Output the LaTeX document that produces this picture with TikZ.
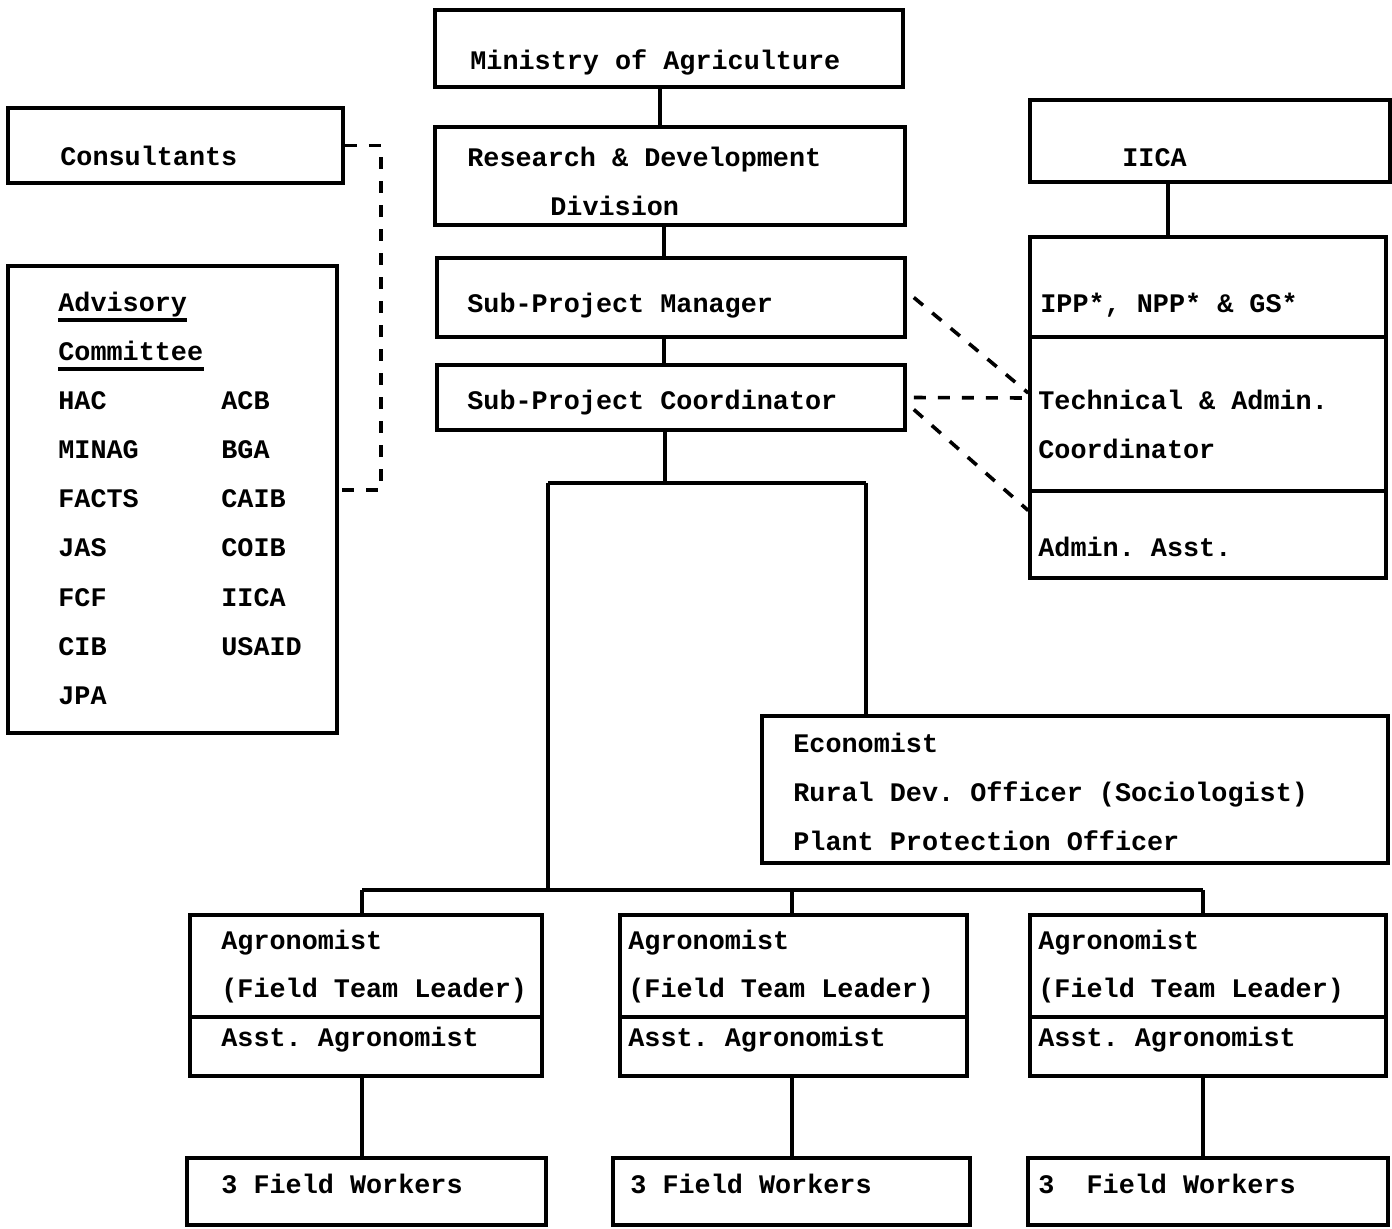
\documentclass[tikz,border=0pt]{standalone}
\usepackage{fontspec}
\setmonofont{Liberation Mono}
\usetikzlibrary{fit}

\tikzset{
  box/.style={draw, line width=1.8pt, inner sep=0pt},
  lbl/.style={anchor=base west, inner sep=0pt},
  link/.style={line width=1.6pt},
  dashlink/.style={line width=1.8pt, dash pattern=on 6pt off 6pt}
}

\begin{document}
\begin{tikzpicture}[x=0.5pt,y=-0.5pt,
    font=\fontsize{13.4pt}{16pt}\selectfont\ttfamily\bfseries]
    \useasboundingbox (0,0) rectangle (1392,1228);
    % boxes, middle column
    \node[box, fit={(435,10) (903,87)}] (min) {};
    \node[box, fit={(435,127) (905,225)}] (rdd) {};
    \node[box, fit={(437,258) (905,337)}] (spm) {};
    \node[box, fit={(437,365) (905,430)}] (spc) {};
    % boxes, left column
    \node[box, fit={(8,108) (343,183)}] (con) {};
    \node[box, fit={(8,266) (337,733)}] (adv) {};
    % boxes, right column
    \node[box, fit={(1030,100) (1390,182)}] (iica) {};
    \node[box, fit={(1030,237) (1386,337)}] (ipp) {};
    \node[box, fit={(1030,337) (1386,491)}] (tac) {};
    \node[box, fit={(1030,491) (1386,578)}] (aas) {};
    \node[box, fit={(762,716) (1388,863)}] (eco) {};
    % boxes, field teams
    \node[box, fit={(190,915) (542,1017)}] (ag1) {};
    \node[box, fit={(190,1017) (542,1076)}] (as1) {};
    \node[box, fit={(620,915) (967,1017)}] (ag2) {};
    \node[box, fit={(620,1017) (967,1076)}] (as2) {};
    \node[box, fit={(1030,915) (1386,1017)}] (ag3) {};
    \node[box, fit={(1030,1017) (1386,1076)}] (as3) {};
    \node[box, fit={(187,1158) (546,1225)}] (fw1) {};
    \node[box, fit={(613,1158) (970,1225)}] (fw2) {};
    \node[box, fit={(1028,1158) (1388,1225)}] (fw3) {};

    % texts
    \node[lbl] (t-min) at (470,69) {Ministry of Agriculture};
    \node[lbl] (t-rdd) at (467,166) {Research \& Development};
    \node[lbl] (t-div) at (550,215) {Division};
    \node[lbl] (t-spm) at (467,312) {Sub-Project Manager};
    \node[lbl] (t-spc) at (467,409) {Sub-Project Coordinator};
    \node[lbl] (t-con) at (60,165) {Consultants};
    \node[lbl] (t-adv) at (58,311) {Advisory};
    \node[lbl] (t-com) at (58,360) {Committee};
    \node[lbl] (t-hac) at (58,409) {HAC};
    \node[lbl] (t-min2) at (58,458) {MINAG};
    \node[lbl] (t-fac) at (58,507) {FACTS};
    \node[lbl] (t-jas) at (58,556) {JAS};
    \node[lbl] (t-fcf) at (58,606) {FCF};
    \node[lbl] (t-cib) at (58,655) {CIB};
    \node[lbl] (t-jpa) at (58,704) {JPA};
    \node[lbl] (t-acb) at (221,409) {ACB};
    \node[lbl] (t-bga) at (221,458) {BGA};
    \node[lbl] (t-cai) at (221,507) {CAIB};
    \node[lbl] (t-coi) at (221,556) {COIB};
    \node[lbl] (t-iic) at (221,606) {IICA};
    \node[lbl] (t-usa) at (221,655) {USAID};
    \node[lbl] (t-iica) at (1122,166) {IICA};
    \node[lbl] (t-ipp) at (1040,312) {IPP*, NPP* \& GS*};
    \node[lbl] (t-tac) at (1038,409) {Technical \& Admin.};
    \node[lbl] (t-tac2) at (1038,458) {Coordinator};
    \node[lbl] (t-aas) at (1038,556) {Admin. Asst.};
    \node[lbl] (t-eco) at (793,752) {Economist};
    \node[lbl] (t-rdo) at (793,801) {Rural Dev. Officer (Sociologist)};
    \node[lbl] (t-ppo) at (793,850) {Plant Protection Officer};
    \node[lbl] (t-ag1) at (221,949) {Agronomist};
    \node[lbl] (t-fl1) at (221,997) {(Field Team Leader)};
    \node[lbl] (t-as1) at (221,1046) {Asst. Agronomist};
    \node[lbl] (t-ag2) at (628,949) {Agronomist};
    \node[lbl] (t-fl2) at (628,997) {(Field Team Leader)};
    \node[lbl] (t-as2) at (628,1046) {Asst. Agronomist};
    \node[lbl] (t-ag3) at (1038,949) {Agronomist};
    \node[lbl] (t-fl3) at (1038,997) {(Field Team Leader)};
    \node[lbl] (t-as3) at (1038,1046) {Asst. Agronomist};
    \node[lbl] (t-fw1) at (221,1193) {3 Field Workers};
    \node[lbl] (t-fw2) at (630,1193) {3 Field Workers};
    \node[lbl] (t-fw3) at (1038,1193) {3\ \ Field Workers};
    % underlines
    \draw[link] ([yshift=-4.5pt]t-adv.base west) -- ([yshift=-4.5pt]t-adv.base east);
    \draw[link] ([yshift=-4.5pt]t-com.base west) -- ([yshift=-4.5pt]t-com.base east);

    % solid connectors
    \coordinate (v1) at (660,0);
    \coordinate (v2) at (664,0);
    \coordinate (v3) at (1168,0);
    \draw[link] (min.south -| v1) -- (rdd.north -| v1);
    \draw[link] (rdd.south -| v2) -- (spm.north -| v2);
    \draw[link] (spm.south -| v2) -- (spc.north -| v2);
    \draw[link] (iica.south -| v3) -- (ipp.north -| v3);
    % split below the coordinator
    \coordinate (tj) at (665,483);
    \coordinate (tl) at (548,483);
    \coordinate (tr) at (866,483);
    \draw[link] (spc.south -| tj) -- (tj);
    \draw[link] (tl) -- (tr);
    \draw[link] (tr) -- (tr |- eco.north);
    % bus to the field teams
    \coordinate (bl) at (362,890);
    \coordinate (bm) at (792,890);
    \coordinate (br) at (1203,890);
    \draw[link] (tl) -- (tl |- bl);
    \draw[link] (bl) -- (br);
    \draw[link] (bl) -- (bl |- ag1.north);
    \draw[link] (bm) -- (bm |- ag2.north);
    \draw[link] (br) -- (br |- ag3.north);
    \draw[link] (as1.south -| bl) -- (fw1.north -| bl);
    \draw[link] (as2.south -| bm) -- (fw2.north -| bm);
    \draw[link] (as3.south -| br) -- (fw3.north -| br);

    % dashed connectors
    \coordinate (ak) at (381,490);
    \draw[dashlink] (con.east) -| (ak) -- (ak -| adv.east);
    \draw[dashlink] ([xshift=3.5pt]spm.east) -- ([yshift=10.5pt]tac.west);
    \draw[dashlink] ([xshift=3.5pt]spc.east) -- ([yshift=8pt]tac.west);
    \draw[dashlink] ([xshift=3.5pt,yshift=-6pt]spc.east) -- ([yshift=12pt]aas.west);
\end{tikzpicture}
\end{document}
